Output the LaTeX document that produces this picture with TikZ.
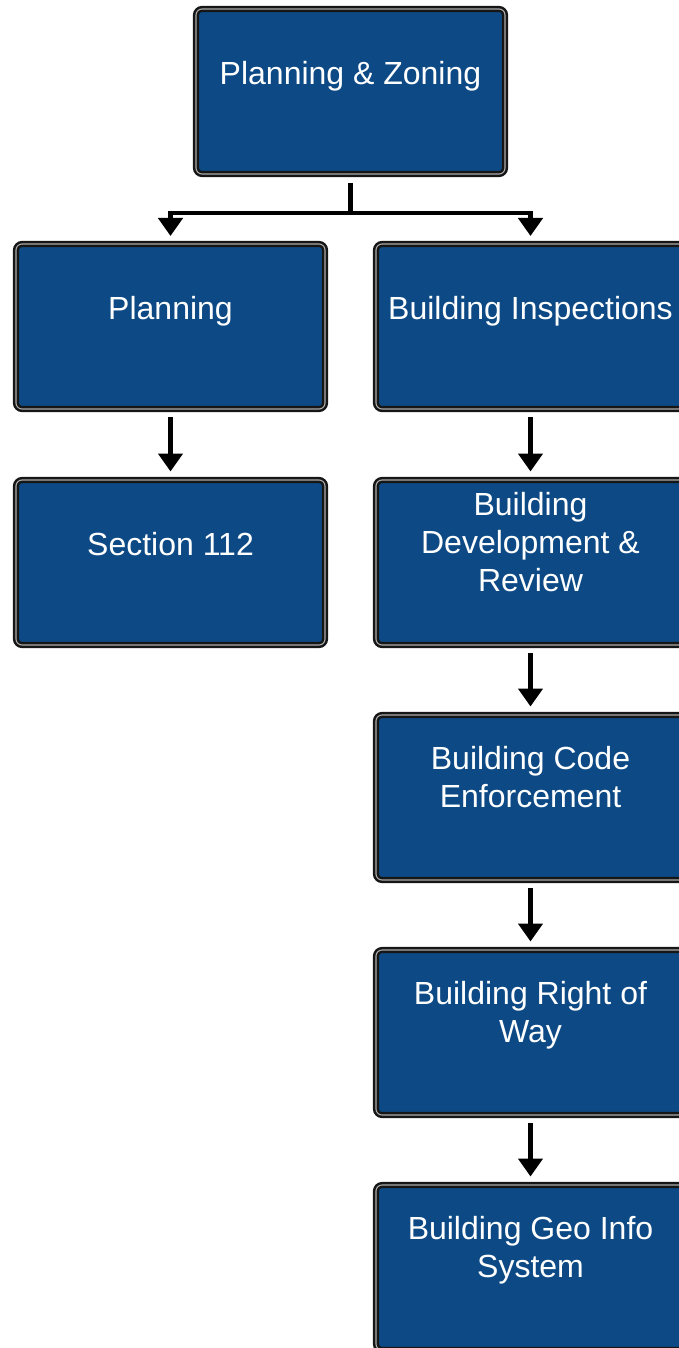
\documentclass[tikz,border=0pt]{standalone}
\usepackage{fontspec}
\setmainfont{Liberation Sans}
\usetikzlibrary{arrows.meta}
\definecolor{boxblue}{RGB}{13,74,133}
\definecolor{edge}{RGB}{22,22,22}
\begin{document}
\begin{tikzpicture}[x=1bp,y=-1bp,
  box/.style={rectangle, rounded corners=6bp, fill=boxblue, draw=edge, double=gray!65, line width=2.5bp, double distance=1.1bp,
    minimum width=309bp, minimum height=165bp, outer sep=0pt, inner sep=0pt},
  lbl/.style={text=white, align=center, font=\fontsize{32bp}{38bp}\selectfont, inner sep=0pt,
    execute at begin node=\strut, execute at end node=\strut},
  conn/.style={draw=black, line width=4.8bp},
  arr/.style={conn, -{Triangle[width=24bp,length=18bp]}}]
\useasboundingbox (0,0) rectangle (678,1348);
% boxes
\node[box] (pz) at (350.5,91.5) {};
\node[box] (pl) at (170.5,326.5) {};
\node[box] (bi) at (530.5,326.5) {};
\node[box] (s1) at (170.5,562.5) {};
\node[box] (bd) at (530.5,562.5) {};
\node[box] (bc) at (530.5,797.5) {};
\node[box] (br) at (530.5,1032.5) {};
\node[box] (bg) at (530.5,1267.5) {};
% labels
\node[lbl] (tpz) at ([yshift=14.5bp]pz.center) {Planning \& Zoning};
\node[lbl] (tpl) at ([yshift=14.5bp]pl.center) {Planning};
\node[lbl] (tbi) at ([yshift=14.5bp]bi.center) {Building Inspections};
\node[lbl] (ts1) at ([yshift=14.5bp]s1.center) {Section 112};
\node[lbl] (tbd) at ([yshift=14.5bp]bd.center) {Building\\Development \&\\Review};
\node[lbl] (tbc) at ([yshift=14.5bp]bc.center) {Building Code\\Enforcement};
\node[lbl] (tbr) at ([yshift=14.5bp]br.center) {Building Right of\\Way};
\node[lbl] (tbg) at ([yshift=14.5bp]bg.center) {Building Geo Info\\System};
% connectors
\coordinate (j) at (350.5,213);
\draw[conn] ([yshift=-9bp]pz.south) -- (j);
\draw[arr] (j) -| ([yshift=8bp]pl.north);
\draw[arr] (j) -| ([yshift=8bp]bi.north);
\draw[arr] ([yshift=-8bp]pl.south) -- ([yshift=8.5bp]s1.north);
\draw[arr] ([yshift=-8bp]bi.south) -- ([yshift=8.5bp]bd.north);
\draw[arr] ([yshift=-8bp]bd.south) -- ([yshift=8.5bp]bc.north);
\draw[arr] ([yshift=-8bp]bc.south) -- ([yshift=8.5bp]br.north);
\draw[arr] ([yshift=-8bp]br.south) -- ([yshift=8.5bp]bg.north);
\end{tikzpicture}
\end{document}
